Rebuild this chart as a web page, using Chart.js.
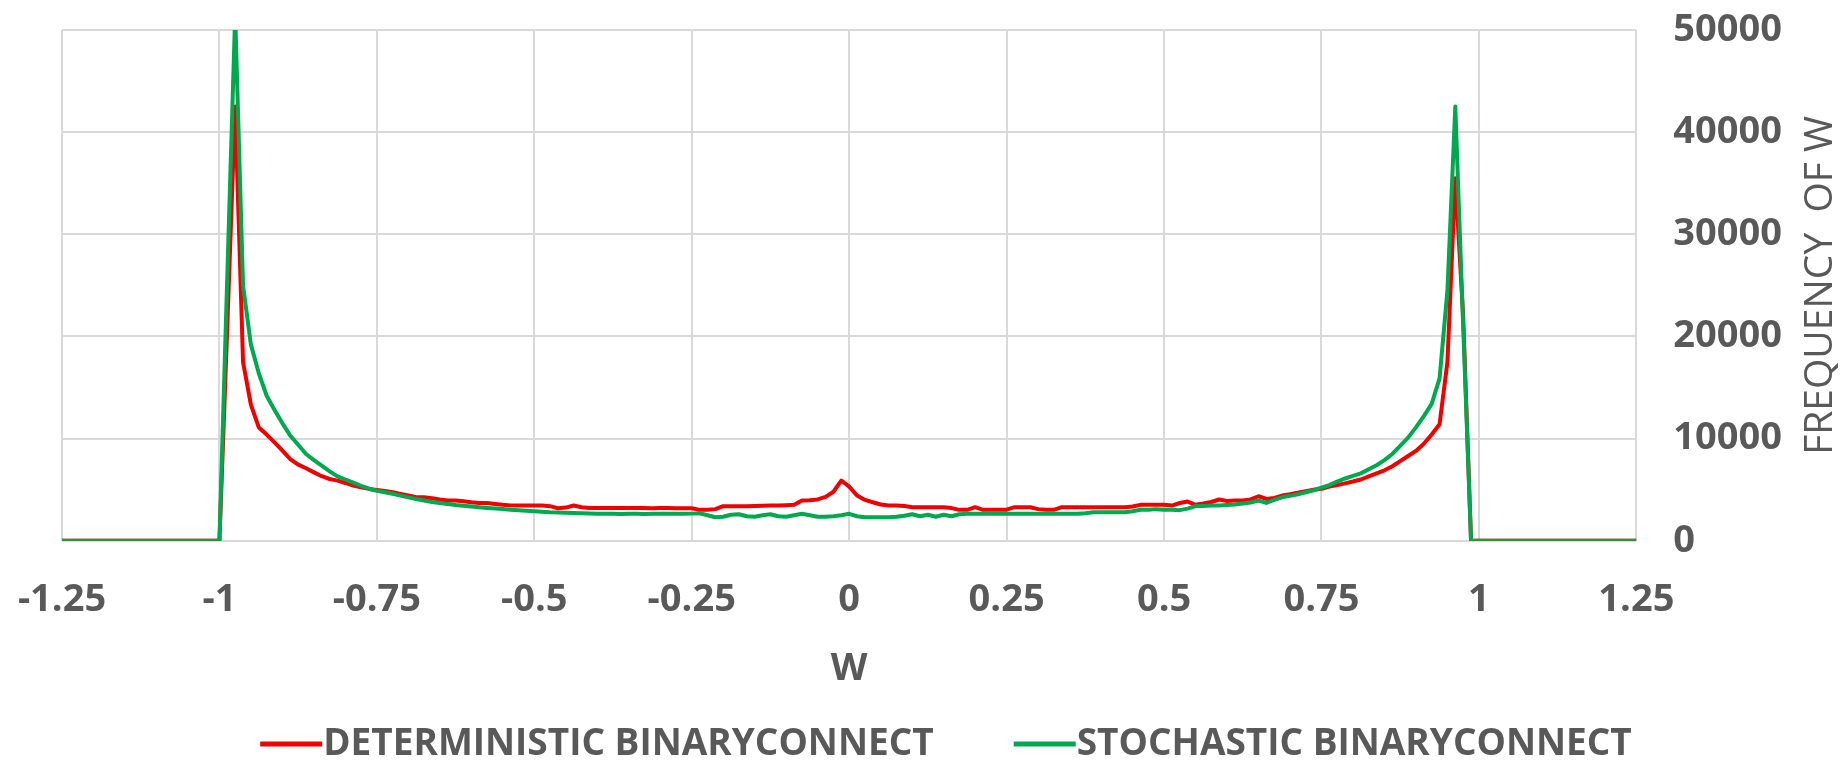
<!DOCTYPE html>
<html>
<head>
<meta charset="utf-8">
<script src="https://cdn.jsdelivr.net/npm/chart.js@4.4.1/dist/chart.umd.min.js"></script>
<style>
    html, body { margin: 0; padding: 0; background: #fff; }
    #wrap { width: 1844px; height: 763px; position: relative; }
</style>
</head>
<body>
<div id="wrap"><canvas id="hist"></canvas></div>
<script>
(function () {
    // histogram bins of w (0.0125 wide), plus the two axis ends
    const binCount = 160;
    const wBins = Array.from({length: binCount}, (_, k) => +(-1 + k * 0.0125).toFixed(4));
    const wValues = [-1.25, ...wBins, 1.25];

    const seriesLabels = ['DETERMINISTIC BINARYCONNECT', 'STOCHASTIC BINARYCONNECT'];

    // frequency of w; first and last entries are the axis ends
    const deterministic = [
        0,
        0, 21000, 42500, 17500, 13300, 11100, 10400, 9640,
        8820, 8000, 7450, 7100, 6700, 6320, 6050, 5890,
        5660, 5400, 5240, 5080, 4980, 4880, 4750, 4590,
        4430, 4260, 4260, 4170, 4040, 3940, 3940, 3870,
        3770, 3710, 3710, 3610, 3520, 3450, 3450, 3450,
        3450, 3450, 3390, 3190, 3250, 3450, 3290, 3220,
        3220, 3200, 3200, 3200, 3210, 3200, 3200, 3190,
        3200, 3200, 3190, 3190, 3190, 3030, 3030, 3100,
        3390, 3390, 3390, 3390, 3400, 3420, 3450, 3450,
        3480, 3520, 3940, 3960, 4050, 4300, 4800, 5900,
        5300, 4430, 4000, 3770, 3550, 3450, 3450, 3400,
        3290, 3290, 3290, 3290, 3290, 3200, 3030, 3030,
        3290, 3030, 3030, 3030, 3050, 3290, 3290, 3290,
        3100, 3030, 3030, 3290, 3290, 3290, 3290, 3290,
        3290, 3290, 3290, 3290, 3350, 3520, 3520, 3520,
        3520, 3450, 3700, 3840, 3520, 3650, 3800, 4040,
        3900, 3940, 3950, 4050, 4360, 4100, 4200, 4430,
        4550, 4700, 4850, 5000, 5100, 5300, 5450, 5620,
        5800, 6000, 6300, 6600, 6900, 7300, 7800, 8300,
        8800, 9500, 10400, 11400, 17500, 35500, 22000, 0,
        0
    ];
    const stochastic = [
        0,
        0, 26000, 51500, 25000, 19200, 16400, 14200, 12800,
        11500, 10300, 9400, 8500, 7900, 7350, 6800, 6300,
        6000, 5700, 5370, 5100, 4900, 4750, 4600, 4420,
        4250, 4100, 3950, 3800, 3700, 3600, 3500, 3420,
        3350, 3280, 3220, 3170, 3120, 3050, 3000, 2950,
        2900, 2850, 2800, 2780, 2750, 2720, 2700, 2680,
        2650, 2640, 2640, 2620, 2640, 2640, 2620, 2640,
        2640, 2650, 2640, 2640, 2660, 2700, 2500, 2310,
        2350, 2550, 2600, 2400, 2350, 2500, 2600, 2400,
        2350, 2500, 2640, 2500, 2350, 2350, 2400, 2500,
        2640, 2400, 2310, 2310, 2310, 2310, 2350, 2450,
        2600, 2400, 2550, 2350, 2550, 2400, 2600, 2640,
        2640, 2640, 2640, 2640, 2640, 2640, 2640, 2640,
        2640, 2640, 2640, 2640, 2640, 2640, 2700, 2800,
        2800, 2800, 2800, 2800, 2900, 3030, 3030, 3100,
        3050, 3030, 3000, 3150, 3400, 3400, 3450, 3450,
        3500, 3550, 3650, 3750, 3940, 3710, 4000, 4260,
        4400, 4550, 4750, 4950, 5200, 5450, 5800, 6100,
        6350, 6600, 7000, 7400, 7900, 8500, 9300, 10100,
        11100, 12200, 13400, 15900, 24500, 42500, 21000, 0,
        0
    ];

    const wTicks = [-1.25, -1, -0.75, -0.5, -0.25, 0, 0.25, 0.5, 0.75, 1, 1.25];
    const freqTicks = [0, 10000, 20000, 30000, 40000, 50000];
    const xTitle = 'W';
    const yTitle = 'FREQUENCY  OF W';

    const textColor = '#595959';
    const gridColor = '#d9d9d9';

    Chart.defaults.font.family = "'Open Sans', sans-serif";
    Chart.defaults.color = textColor;

    function toPoints(series) {
        return wValues.map((w, i) => ({x: w, y: series[i]}));
    }

    function fixedTicks(values) {
        return scale => { scale.ticks = values.map(v => ({value: v})); };
    }

    // let layout.padding alone decide the plot box, labels may overhang it
    function noOverhang(scale) {
        scale.paddingLeft = 0;
        scale.paddingRight = 0;
        scale.paddingTop = 0;
        scale.paddingBottom = 0;
    }

    // y title reads bottom-to-top on the right, chart.js would rotate it the other way
    const rightTitle = {
        id: 'rightTitle',
        afterDraw(chart) {
            const ctx = chart.ctx;
            const area = chart.chartArea;
            ctx.save();
            ctx.translate(chart.width - 23, (area.top + area.bottom) / 2);
            ctx.rotate(-Math.PI / 2);
            ctx.font = "39px 'Open Sans'";
            ctx.fillStyle = textColor;
            ctx.textAlign = 'center';
            ctx.textBaseline = 'middle';
            ctx.fillText(yTitle, 0, 0);
            ctx.restore();
        }
    };

    // legend with short line swatches sitting right against the text
    const lineLegend = {
        id: 'lineLegend',
        afterDraw(chart) {
            const ctx = chart.ctx;
            const datasets = chart.data.datasets;
            const lineLen = 62, gap = 1, itemGap = 80;
            ctx.save();
            ctx.font = "bold 37px 'Open Sans'";
            const widths = datasets.map(ds => lineLen + gap + ctx.measureText(ds.label).width);
            const total = widths.reduce((a, b) => a + b, 0) + itemGap * (datasets.length - 1);
            let x = chart.width / 2 + 24 - total / 2;
            const y = chart.height - 19;
            ctx.textBaseline = 'middle';
            ctx.textAlign = 'left';
            datasets.forEach((ds, i) => {
                ctx.strokeStyle = ds.borderColor;
                ctx.lineWidth = 5;
                ctx.beginPath();
                ctx.moveTo(x, y);
                ctx.lineTo(x + lineLen, y);
                ctx.stroke();
                ctx.fillStyle = textColor;
                ctx.fillText(ds.label, x + lineLen + gap, y);
                x += widths[i] + itemGap;
            });
            ctx.restore();
        }
    };

    new Chart(document.getElementById('hist'), {
        type: 'line',
        data: {
            datasets: [
                {
                    label: seriesLabels[0],
                    data: toPoints(deterministic),
                    borderColor: '#f00000',
                    backgroundColor: '#f00000',
                    order: 1,
                },
                {
                    label: seriesLabels[1],
                    data: toPoints(stochastic),
                    borderColor: '#00a84f',
                    backgroundColor: '#00a84f',
                    order: 0, // drawn on top
                },
            ]
        },
        options: {
            responsive: true,
            maintainAspectRatio: false,
            animation: false,
            devicePixelRatio: 1,
            layout: {
                padding: {left: 62, top: 30, right: 25, bottom: 78},
            },
            elements: {
                point: {radius: 0, hoverRadius: 0},
                line: {borderWidth: 4, tension: 0, borderJoinStyle: 'round', fill: false},
            },
            scales: {
                x: {
                    type: 'linear',
                    min: -1.25,
                    max: 1.25,
                    afterBuildTicks: fixedTicks(wTicks),
                    afterFit: noOverhang,
                    grid: {color: gridColor, lineWidth: 2, drawTicks: false},
                    border: {display: false},
                    ticks: {
                        callback: v => String(v),
                        font: {size: 38, weight: 'bold'},
                        padding: 37,
                        maxRotation: 0,
                        autoSkip: false,
                    },
                    title: {
                        display: true,
                        text: xTitle,
                        font: {size: 38, weight: 'bold'},
                        padding: {top: -14, bottom: -7},
                    },
                },
                y: {
                    position: 'right',
                    min: 0,
                    max: 50000,
                    afterBuildTicks: fixedTicks(freqTicks),
                    afterFit: noOverhang,
                    grid: {color: gridColor, lineWidth: 2, drawTicks: false},
                    border: {display: false},
                    ticks: {
                        callback: v => String(v),
                        font: {size: 38, weight: 'bold'},
                        padding: 37,
                    },
                },
            },
            plugins: {
                legend: {display: false},
                tooltip: {enabled: false},
            },
        },
        plugins: [rightTitle, lineLegend],
    });
})();
</script>
</body>
</html>
